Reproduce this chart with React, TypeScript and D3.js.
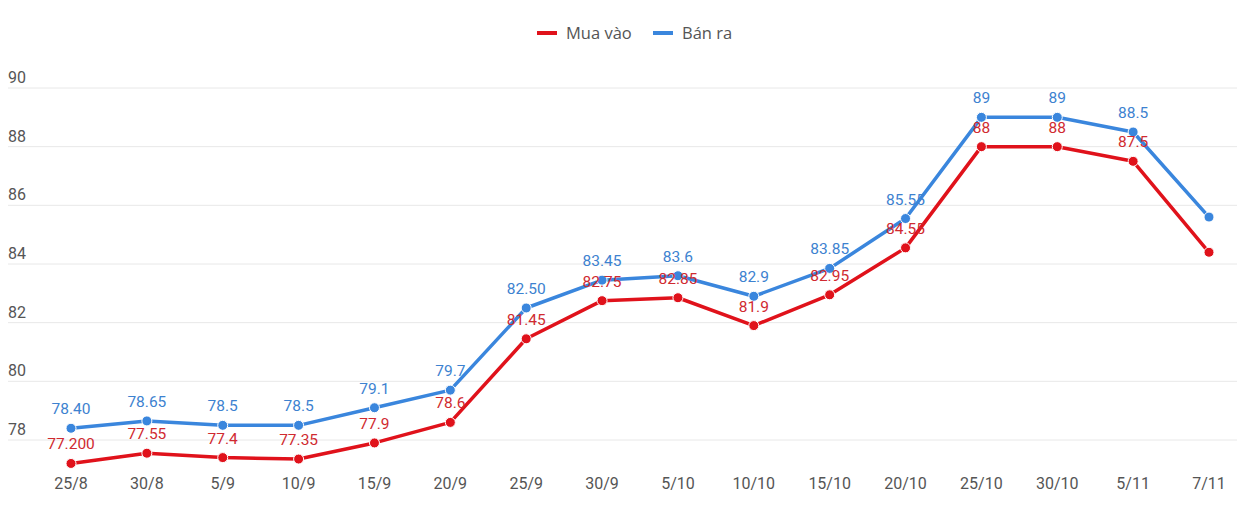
import React from "react";
import * as d3 from "d3";

const categories = ["25/8","30/8","5/9","10/9","15/9","20/9","25/9","30/9","5/10","10/10","15/10","20/10","25/10","30/10","5/11","7/11"];
const muaVao = [77.2,77.55,77.4,77.35,77.9,78.6,81.45,82.75,82.85,81.9,82.95,84.55,88,88,87.5,84.4];
const banRa = [78.4,78.65,78.5,78.5,79.1,79.7,82.5,83.45,83.6,82.9,83.85,85.55,89,89,88.5,85.6];
const muaLabels = ["77.200","77.55","77.4","77.35","77.9","78.6","81.45","82.75","82.85","81.9","82.95","84.55","88","88","87.5",""];
const banLabels = ["78.40","78.65","78.5","78.5","79.1","79.7","82.50","83.45","83.6","82.9","83.85","85.55","89","89","88.5",""];
const yTicks = [78,80,82,84,86,88,90];

const W = 1237, H = 507;
const RED = "#e0121b", BLUE = "#3a86dd";
const RED_T = "#d02a30", BLUE_T = "#3d82d0";
const FONT = "Roboto, 'Open Sans', sans-serif";

export default function App() {
  const x = d3.scalePoint<string>().domain(categories).range([71, 1209]);
  const y = d3.scaleLinear().domain([78, 90]).range([440, 88]);
  const line = d3.line<number>().x((_, i) => x(categories[i])!).y(d => y(d));
  const series = [
    { name: "Mua vào", data: muaVao, labels: muaLabels, color: RED, tc: RED_T },
    { name: "Bán ra", data: banRa, labels: banLabels, color: BLUE, tc: BLUE_T },
  ];
  return (
    <svg width={W} height={H} style={{ position: "absolute", left: 0, top: 0, background: "#fff" }}>
      {yTicks.map(t => (
        <g key={t}>
          <line x1={8} x2={W} y1={y(t)} y2={y(t)} stroke="#e8e8e8" strokeWidth={1} />
          <text x={8} y={y(t) - 5} fontSize={16} fill="#555" fontFamily={FONT}>{t}</text>
        </g>
      ))}
      {categories.map(c => (
        <text key={c} x={x(c)} y={489} textAnchor="middle" fontSize={16} fill="#555" fontFamily={FONT}>{c}</text>
      ))}
      {series.map(s => (
        <g key={s.name}>
          <path d={line(s.data)!} fill="none" stroke={s.color} strokeWidth={3.5} strokeLinejoin="round" />
          {s.data.map((v, i) => (
            <circle key={i} cx={x(categories[i])} cy={y(v)} r={5} fill={s.color} stroke="#fff" strokeWidth={1} />
          ))}
        </g>
      ))}
      {series.map(s => (
        <g key={s.name + "l"}>
          {s.data.map((v, i) => (
            <text key={i} x={x(categories[i])} y={y(v) - 14} textAnchor="middle" fontSize={15.5} fill={s.tc} fontFamily={FONT}>{s.labels[i]}</text>
          ))}
        </g>
      ))}
      <g fontFamily="'Open Sans', sans-serif" fontSize={16.5} fill="#555">
        <line x1={537} x2={557} y1={33} y2={33} stroke={RED} strokeWidth={4} />
        <text x={566} y={39}>Mua vào</text>
        <line x1={653} x2={673} y1={33} y2={33} stroke={BLUE} strokeWidth={4} />
        <text x={682} y={39}>Bán ra</text>
      </g>
    </svg>
  );
}
